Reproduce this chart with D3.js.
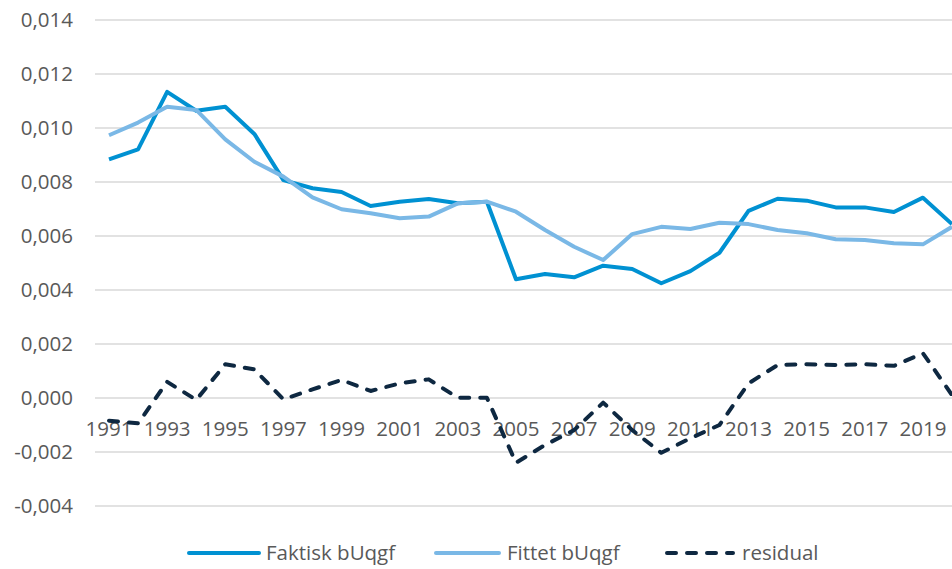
<!DOCTYPE html>
<html><head><meta charset="utf-8">
<script src="https://cdn.jsdelivr.net/npm/d3@7"></script>
<style>
body{margin:0;background:#fff;}
text{font-family:"Open Sans",sans-serif;fill:#595959;}
</style></head>
<body><svg id="c" width="952" height="569"></svg>
<script>
const years = d3.range(1991, 2021);
const faktisk = [0.00884,0.00921,0.01134,0.01064,0.01079,0.00978,0.00807,0.00777,0.00763,0.00711,
  0.00727,0.00737,0.00721,0.00727,0.00440,0.00459,0.00447,0.00490,0.00478,0.00425,
  0.00470,0.00538,0.00693,0.00738,0.00731,0.00706,0.00706,0.00689,0.00742,0.00644];
const fittet = [0.00973,0.01020,0.01079,0.01067,0.00958,0.00875,0.00820,0.00743,0.00699,0.00684,
  0.00666,0.00672,0.00721,0.00727,0.00690,0.00622,0.00560,0.00511,0.00607,0.00634,
  0.00626,0.00649,0.00644,0.00622,0.00610,0.00588,0.00585,0.00573,0.00569,0.00634];
const residual = [-0.00084,-0.00094,0.00060,-0.00007,0.00125,0.00106,-0.00005,0.00032,0.00067,0.00026,
  0.00054,0.00069,0.00001,0.00001,-0.00240,-0.00174,-0.00119,-0.00017,-0.00119,-0.00203,
  -0.00149,-0.00100,0.00054,0.00122,0.00125,0.00122,0.00125,0.00119,0.00166,0.00011];
const yTicks = [-0.004,-0.002,0,0.002,0.004,0.006,0.008,0.010,0.012,0.014];
const xTickLabels = years.filter(y => (y - 1991) % 2 === 0);
const seriesNames = ["Faktisk bUqgf","Fittet bUqgf","residual"];

const svg = d3.select("#c");
const x = d3.scalePoint().domain(years).range([109, 952]);
const y = d3.scaleLinear().domain([-0.004, 0.014]).range([506, 20]);
const loc = d3.formatLocale({decimal:",", thousands:".", grouping:[3], currency:["",""], minus:"-"});
const fmt = loc.format(".3f");

// gridlines
svg.append("g").selectAll("line").data(yTicks).join("line")
  .attr("x1", 95).attr("x2", 970)
  .attr("y1", d => y(d)).attr("y2", d => y(d))
  .attr("stroke", "#D9D9D9").attr("stroke-width", 1.5);

// y labels
svg.append("g").selectAll("text").data(yTicks).join("text")
  .attr("x", 73).attr("y", d => y(d)).attr("dy", "0.35em")
  .attr("text-anchor", "end").style("font-size", "20.5px")
  .text(d => fmt(d));

// x labels
svg.append("g").selectAll("text").data(xTickLabels).join("text")
  .attr("x", d => x(d)).attr("y", y(0) + 31).attr("dy", "0.35em")
  .attr("text-anchor", "middle").style("font-size", "20.5px")
  .text(d => d);

const line = d3.line().x((d, i) => x(years[i])).y(d => y(d));
const colors = ["#0091D2", "#7AB8E6", "#0E2841"];

svg.append("path").datum(faktisk).attr("d", line).attr("fill", "none")
  .attr("stroke", colors[0]).attr("stroke-width", 4).attr("stroke-linejoin", "round");
svg.append("path").datum(fittet).attr("d", line).attr("fill", "none")
  .attr("stroke", colors[1]).attr("stroke-width", 4).attr("stroke-linejoin", "round");
svg.append("path").datum(residual).attr("d", line).attr("fill", "none")
  .attr("stroke", colors[2]).attr("stroke-width", 4).attr("stroke-linejoin", "round")
  .attr("stroke-linecap", "round").attr("stroke-dasharray", "9,11");

// legend
const legend = [
  {name: seriesNames[0], x1: 189, x2: 259, tx: 266, dash: null, c: colors[0]},
  {name: seriesNames[1], x1: 436, x2: 499, tx: 507, dash: null, c: colors[1]},
  {name: seriesNames[2], x1: 667, x2: 733, tx: 742, dash: "9,11", c: colors[2]}
];
const ly = 553;
const lg = svg.append("g");
legend.forEach(l => {
  lg.append("line").attr("x1", l.x1).attr("x2", l.x2).attr("y1", ly).attr("y2", ly)
    .attr("stroke", l.c).attr("stroke-width", 4).attr("stroke-linecap", "round")
    .attr("stroke-dasharray", l.dash);
  lg.append("text").attr("x", l.tx).attr("y", ly).attr("dy", "0.35em")
    .style("font-size", "20.5px").text(l.name);
});
</script></body></html>
